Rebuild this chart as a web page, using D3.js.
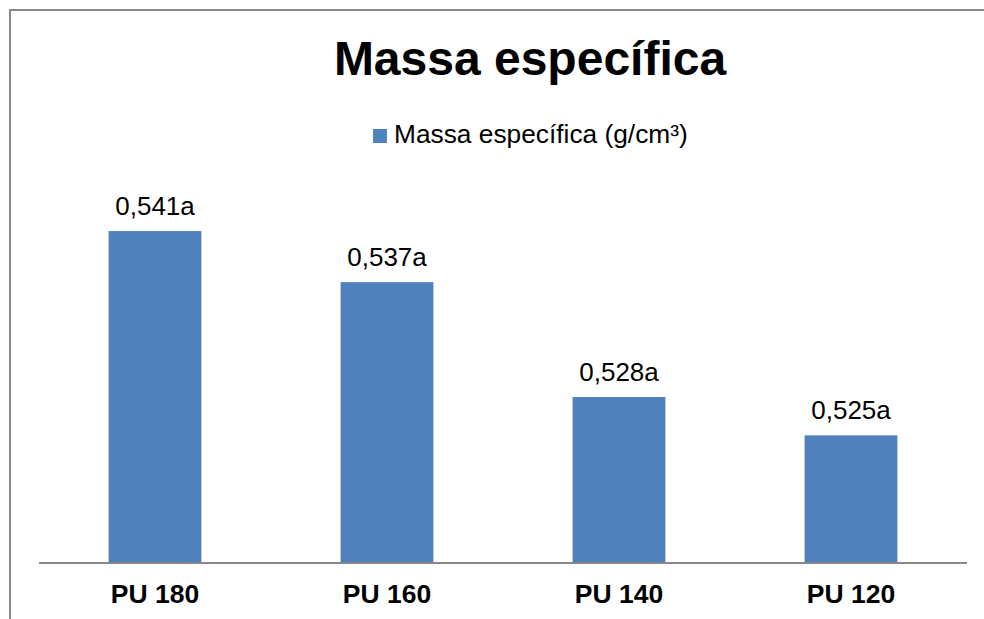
<!DOCTYPE html>
<html>
<head>
<meta charset="utf-8">
<script src="https://cdn.jsdelivr.net/npm/d3@7"></script>
<style>
  html, body { margin: 0; padding: 0; background: #fff; }
  svg { display: block; font-family: Arial, "Liberation Sans", sans-serif; }
</style>
</head>
<body>
<svg id="chart" width="984" height="619"></svg>
<script>
// Density of polyurethane panels
const categories = ["PU 180", "PU 160", "PU 140", "PU 120"];
const values = [0.541, 0.537, 0.528, 0.525];
const valueLabels = ["0,541a", "0,537a", "0,528a", "0,525a"];
const titleText = "Massa específica";
const seriesName = "Massa específica (g/cm³)";

const svg = d3.select("#chart");
const W = 984, H = 619;
const barColor = "#4F81BD";

// outer chart frame (runs off the right and bottom edges)
svg.append("rect")
  .attr("x", 10).attr("y", 10)
  .attr("width", W + 20).attr("height", H + 20)
  .attr("fill", "#fff")
  .attr("stroke", "#888").attr("stroke-width", 2);

const plot = { left: 39, right: 967, top: 180, bottom: 563 };

const x = d3.scaleBand()
  .domain(categories)
  .range([plot.left, plot.right])
  .paddingInner(0.6)
  .paddingOuter(0.3);

const y = d3.scaleLinear()
  .domain([0.515, 0.545])
  .range([plot.bottom, plot.top]);

// bars
svg.append("g").selectAll("rect")
  .data(values)
  .join("rect")
  .attr("x", (d, i) => x(categories[i]))
  .attr("y", d => y(d))
  .attr("width", x.bandwidth())
  .attr("height", d => y.range()[0] - y(d))
  .attr("fill", barColor);

// value labels
svg.append("g").selectAll("text")
  .data(values)
  .join("text")
  .attr("x", (d, i) => x(categories[i]) + x.bandwidth() / 2)
  .attr("y", d => y(d) - 16)
  .attr("text-anchor", "middle")
  .attr("font-size", 26)
  .attr("fill", "#000")
  .text((d, i) => valueLabels[i]);

// category axis
const xAxis = svg.append("g")
  .attr("transform", `translate(0,${plot.bottom})`)
  .call(d3.axisBottom(x).tickSize(0).tickPadding(0));
xAxis.select(".domain")
  .attr("d", `M${plot.left},0H${plot.right}`)
  .attr("stroke", "#888").attr("stroke-width", 2);
xAxis.selectAll(".tick text")
  .attr("dy", null)
  .attr("y", 40)
  .attr("font-size", 26.5)
  .attr("font-weight", "bold")
  .attr("font-family", "Arial, 'Liberation Sans', sans-serif")
  .attr("fill", "#000");

// title
svg.append("text")
  .attr("x", 530).attr("y", 75)
  .attr("text-anchor", "middle")
  .attr("font-size", 48)
  .attr("font-weight", "bold")
  .attr("fill", "#000")
  .text(titleText);

// legend
const legend = svg.append("g");
legend.append("rect")
  .attr("x", 373).attr("y", 129)
  .attr("width", 14).attr("height", 14)
  .attr("fill", barColor);
legend.append("text")
  .attr("x", 394).attr("y", 143)
  .attr("font-size", 26.3)
  .attr("fill", "#000")
  .text(seriesName);
</script>
</body>
</html>
